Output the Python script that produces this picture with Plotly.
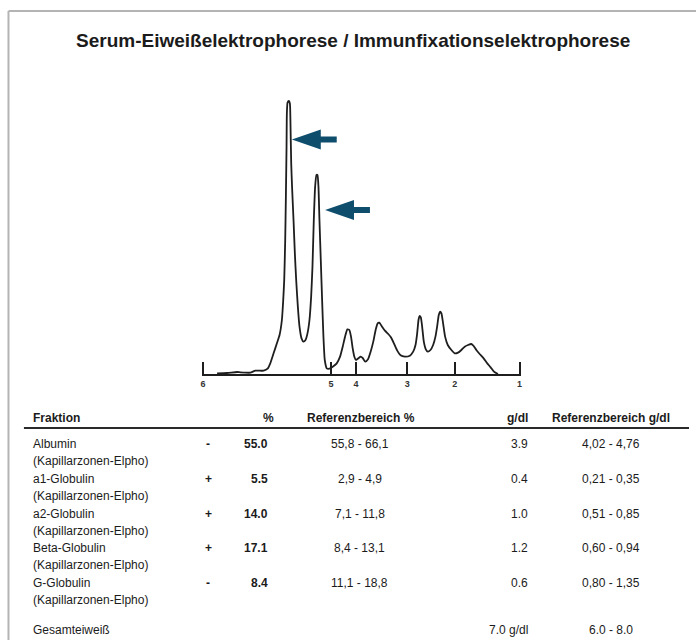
import plotly.graph_objects as go

# ---------------- data ----------------
# densitometer trace (x: migration distance, y: intensity)
trace_x_raw = [80,110,140,150,180,195,220,232,240,250,260,268,275,279,282,285,287,289,290,292,296,299,301,303,306,310,314,318,323,328,334,340,346,352,358,363,367,371,375,379,382,385,388,392,396,400,404,410,418,428,440,450,458,465,472,478,483,488,493,498,505,512,518,526,534,542,550,557,563,568,575,585,595,603,612,622,632,645,660,670,677,682,686,689,693,697,702,708,714,722,730,737,742,747,751,755,760,766,774,785,795,805,815,825,835,845,852,860,870,882,893,903,913,925]
trace_y_raw = [880,879,876,877,878,872,872,866,850,820,790,765,720,660,600,480,350,200,100,68,63,70,140,250,330,420,520,600,680,740,775,785,780,760,720,650,560,420,320,285,285,320,420,540,660,770,840,865,866,860,850,830,800,770,748,750,770,805,830,840,835,830,834,845,838,815,785,750,730,728,738,752,762,772,790,812,826,830,827,815,795,760,720,708,712,740,785,808,815,810,795,770,740,705,695,700,730,770,795,810,820,818,810,800,795,792,798,810,822,835,850,862,875,882]
migration = [(v - 38) / 3 for v in trace_x_raw]
intensity = [(882 - v) / 3 for v in trace_y_raw]

tick_pos = [0, 128.3, 153.3, 204.7, 252.3, 317.3]
tick_labels = ["6", "5", "4", "3", "2", "1"]

fractions = ["Albumin", "a1-Globulin", "a2-Globulin", "Beta-Globulin", "G-Globulin"]
method = "(Kapillarzonen-Elpho)"
flags = ["-", "+", "+", "+", "-"]
percent = [55.0, 5.5, 14.0, 17.1, 8.4]
ref_pct = ["55,8 - 66,1", "2,9 - 4,9", "7,1 - 11,8", "8,4 - 13,1", "11,1 - 18,8"]
gdl = [3.9, 0.4, 1.0, 1.2, 0.6]
ref_gdl = ["4,02 - 4,76", "0,21 - 0,35", "0,51 - 0,85", "0,60 - 0,94", "0,80 - 1,35"]
total_label = "Gesamteiweiß"
total_value = "7.0 g/dl"
total_ref = "6.0 - 8.0"
headers = ["Fraktion", "%", "Referenzbereich %", "g/dl", "Referenzbereich g/dl"]
title = "Serum-Eiweißelektrophorese / Immunfixationselektrophorese"

# ---------------- layout helpers ----------------
W, H = 697, 640
FONT = "Liberation Sans, Arial, Helvetica, sans-serif"
TXT = "#1b1b1b"
ARROW = "#0f4d6c"


def px(x):
    return x / W


def py(y):
    return 1 - y / H


x0_px, x1_px = 202.7, 520.0
base_px = 374.0
pad = 1.5  # keep the end ticks (6 and 1) inside the drawable range

fig = go.Figure()
fig.add_trace(go.Scatter(
    x=migration, y=intensity, mode="lines",
    line=dict(color="#1e1e1e", width=1.8, shape="spline", smoothing=0.5),
    hoverinfo="skip", showlegend=False,
))

annotations = []


def txt(x, y, s, size=12, bold=False, xanchor="left"):
    annotations.append(dict(
        x=px(x), y=py(y), xref="paper", yref="paper",
        text=f"<b>{s}</b>" if bold else s, showarrow=False,
        xanchor=xanchor, yanchor="middle",
        font=dict(family=FONT, size=size, color=TXT),
    ))


txt(W / 2 + 5, 40, title, size=19, bold=True, xanchor="center")

# table header
header_y = 418
txt(30, header_y, headers[0], bold=True)
txt(276, header_y, headers[1], bold=True, xanchor="right")
txt(361, header_y, headers[2], bold=True, xanchor="center")
txt(531, header_y, headers[3], bold=True, xanchor="right")
txt(612, header_y, headers[4], bold=True, xanchor="center")

row_y = [444, 479, 514, 548, 583]
for i, name in enumerate(fractions):
    y = row_y[i]
    txt(30, y, name)
    txt(30, y + 17, method)
    txt(208, y, f"<b>{flags[i]}</b>", xanchor="center")
    txt(270, y, f"{percent[i]:.1f}", bold=True, xanchor="right")
    txt(360, y, ref_pct[i], xanchor="center")
    txt(531, y, f"{gdl[i]:.1f}", xanchor="right")
    txt(612, y, ref_gdl[i], xanchor="center")

txt(30, 630, total_label)
txt(531, 630, total_value, xanchor="right")
txt(612, 630, total_ref, xanchor="center")

shapes = [
    # page frame (scan border)
    dict(type="line", xref="paper", yref="paper", x0=px(7.5), x1=px(7.5), y0=py(11), y1=0,
         line=dict(color="#b4b4b4", width=2)),
    dict(type="line", xref="paper", yref="paper", x0=px(7.5), x1=1, y0=py(11), y1=py(11),
         line=dict(color="#b4b4b4", width=2)),
    # header rule
    dict(type="line", xref="paper", yref="paper", x0=px(23), x1=px(690), y0=py(428), y1=py(428),
         line=dict(color="#2a2a2a", width=2)),
]


def arrow_path(tip_x, tip_y, head_len=29, head_half=10, shaft_end=45, shaft_half=3):
    pts = [
        (tip_x, tip_y),
        (tip_x + head_len, tip_y + head_half),
        (tip_x + head_len, tip_y + shaft_half),
        (tip_x + shaft_end, tip_y + shaft_half),
        (tip_x + shaft_end, tip_y - shaft_half),
        (tip_x + head_len, tip_y - shaft_half),
        (tip_x + head_len, tip_y - head_half),
    ]
    return "M " + " L ".join(f"{a:.1f},{b:.1f}" for a, b in pts) + " Z"


# arrows pointing at the two sharp peaks (tip positions in trace units)
arrow_tips = [(291.7 - x0_px, base_px - 139.5), (325.0 - x0_px, base_px - 210.0)]
for tx, ty in arrow_tips:
    shapes.append(dict(type="path", xref="x", yref="y", path=arrow_path(tx, ty),
                       fillcolor=ARROW, line=dict(color=ARROW, width=0)))

fig.update_layout(
    width=W, height=H,
    margin=dict(l=0, r=0, t=0, b=0),
    paper_bgcolor="white", plot_bgcolor="white",
    showlegend=False,
    annotations=annotations,
    shapes=shapes,
    xaxis=dict(
        domain=[px(x0_px - pad), px(x1_px + pad)], range=[-pad, x1_px - x0_px + pad],
        showgrid=False, zeroline=False,
        showline=True, linecolor="#1e1e1e", linewidth=1.6,
        tickmode="array", tickvals=tick_pos, ticktext=[f"<b>{t}</b>" for t in tick_labels],
        ticks="inside", ticklen=12, tickwidth=2, tickcolor="#1e1e1e",
        tickfont=dict(family=FONT, size=9, color="#333"),
        fixedrange=True,
    ),
    yaxis=dict(
        domain=[py(base_px), 1], range=[0, base_px],
        visible=False, fixedrange=True,
    ),
)

fig.write_html(
    "out.html",
    config={"displayModeBar": False},
    post_script="document.body.style.margin='0';document.body.style.overflow='hidden';",
)
